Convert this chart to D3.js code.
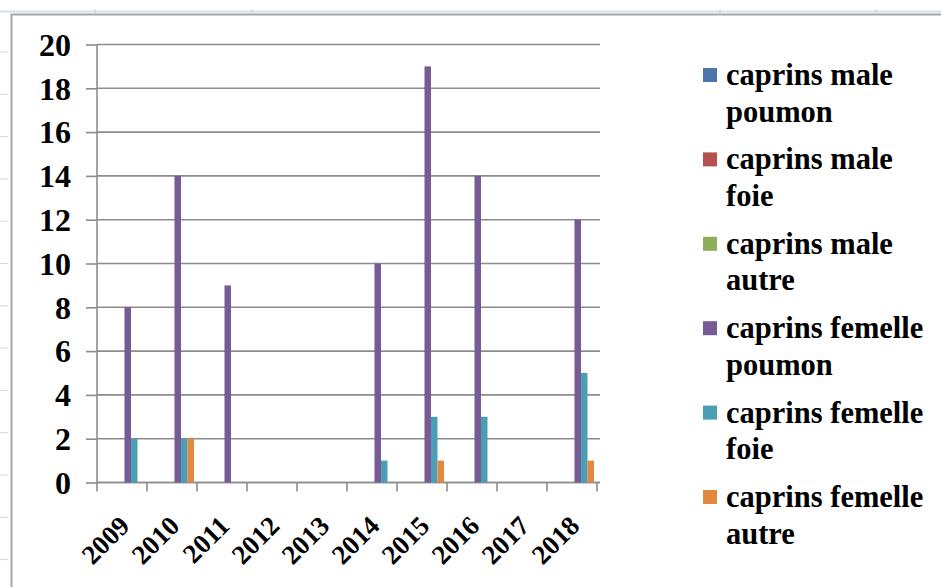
<!DOCTYPE html>
<html>
<head>
<meta charset="utf-8">
<script src="https://cdn.jsdelivr.net/npm/d3@7"></script>
<style>
  html, body { margin: 0; padding: 0; background: #fff; }
  svg { display: block; }
  text { font-family: "Liberation Serif", "Times New Roman", serif; font-weight: bold; fill: #000; }
</style>
</head>
<body>
<svg id="chart" width="941" height="587"></svg>
<script>
// Yearly counts of lesions in goats, by sex and organ
const years = ["2009", "2010", "2011", "2012", "2013", "2014", "2015", "2016", "2017", "2018"];
const seriesNames = [
  "caprins male poumon",
  "caprins male foie",
  "caprins male autre",
  "caprins femelle poumon",
  "caprins femelle foie",
  "caprins femelle autre"
];
const legendLines = [
  ["caprins male", "poumon"],
  ["caprins male", "foie"],
  ["caprins male", "autre"],
  ["caprins femelle", "poumon"],
  ["caprins femelle", "foie"],
  ["caprins femelle", "autre"]
];
const maleLung      = [0, 0, 0, 0, 0, 0, 0, 0, 0, 0];
const maleLiver     = [0, 0, 0, 0, 0, 0, 0, 0, 0, 0];
const maleOther     = [0, 0, 0, 0, 0, 0, 0, 0, 0, 0];
const femaleLung    = [8, 14, 9, 0, 0, 10, 19, 14, 0, 12];
const femaleLiver   = [2, 2, 0, 0, 0, 1, 3, 3, 0, 5];
const femaleOther   = [0, 2, 0, 0, 0, 0, 1, 0, 0, 1];
const yTicks = [0, 2, 4, 6, 8, 10, 12, 14, 16, 18, 20];
const colors = ["#4a76ab", "#b4504d", "#8fae59", "#765b94", "#4a9fb7", "#e3883f"];

const seriesValues = [maleLung, maleLiver, maleOther, femaleLung, femaleLiver, femaleOther];
const rows = years.map((yr, i) => ({ year: yr, values: seriesValues.map(s => s[i]) }));

const svg = d3.select("#chart");

// Spreadsheet frame around the chart object
const frame = svg.append("g");
frame.append("line").attr("x1", 0).attr("x2", 941).attr("y1", 11.5).attr("y2", 11.5)
  .attr("stroke", "#d5deeb").attr("stroke-width", 2);
[95, 252, 720, 876].forEach(x => {
  frame.append("line").attr("x1", x).attr("x2", x).attr("y1", 9).attr("y2", 13)
    .attr("stroke", "#c3cfe0").attr("stroke-width", 1);
});
d3.range(52, 587, 42.3).forEach(y => {
  frame.append("line").attr("x1", 0).attr("x2", 8).attr("y1", y).attr("y2", y)
    .attr("stroke", "#cfd8e6").attr("stroke-width", 1);
});
frame.append("path").attr("d", "M11.5,587V14.5H941")
  .attr("fill", "none").attr("stroke", "#a6a6a6").attr("stroke-width", 2);

// Plot area
const x0 = d3.scaleBand().domain(years).range([97, 597]).padding(0);
const x1 = d3.scaleBand().domain(d3.range(seriesNames.length)).range([8, 47]).padding(0);
const y = d3.scaleLinear().domain([0, 20]).range([482.5, 44.5]);

// Horizontal gridlines + y axis
const yAxis = d3.axisLeft(y).tickValues(yTicks).tickSize(11).tickPadding(15);
const gy = svg.append("g").attr("transform", "translate(97,0)").call(yAxis);
gy.select(".domain").remove();
gy.selectAll(".tick line").attr("stroke", "#8c8c8c").attr("stroke-width", 1.6);
gy.selectAll(".tick text").style("font-size", "32px").attr("dy", "0.34em");

svg.append("g").selectAll("line").data(yTicks).join("line")
  .attr("x1", 97).attr("x2", 600)
  .attr("y1", d => y(d)).attr("y2", d => y(d))
  .attr("stroke", "#8c8c8c").attr("stroke-width", 1.6);

svg.append("line").attr("x1", 97).attr("x2", 97).attr("y1", 44.5).attr("y2", 482.5)
  .attr("stroke", "#8c8c8c").attr("stroke-width", 1.6);

// X axis with ticks at category boundaries
const gx = svg.append("g").attr("transform", "translate(0,482.5)");
gx.append("line").attr("x1", 97).attr("x2", 600).attr("y1", 0).attr("y2", 0)
  .attr("stroke", "#8c8c8c").attr("stroke-width", 1.6);
gx.selectAll("line.tk").data(years.concat(["end"])).join("line").attr("class", "tk")
  .attr("x1", (d, i) => 97 + i * x0.bandwidth()).attr("x2", (d, i) => 97 + i * x0.bandwidth())
  .attr("y1", 0).attr("y2", 9)
  .attr("stroke", "#8c8c8c").attr("stroke-width", 1.6);
gx.selectAll("text").data(years).join("text")
  .attr("text-anchor", "end")
  .style("font-size", "27px")
  .attr("transform", d => `translate(${x0(d) + x0.bandwidth() / 2 + 9},45) rotate(-45)`)
  .text(d => d);

// Bars
const groups = svg.append("g").selectAll("g").data(rows).join("g")
  .attr("transform", d => `translate(${x0(d.year)},0)`);
groups.selectAll("rect").data(d => d.values.map((v, i) => ({ v, i }))).join("rect")
  .attr("x", d => x1(d.i))
  .attr("width", x1.bandwidth())
  .attr("y", d => y(d.v))
  .attr("height", d => y(0) - y(d.v))
  .attr("fill", d => colors[d.i]);

// Legend
const legend = svg.append("g").selectAll("g").data(seriesNames).join("g")
  .attr("transform", (d, i) => `translate(703,${68 + i * 84.4})`);
legend.append("rect").attr("width", 14).attr("height", 14).attr("fill", (d, i) => colors[i]);
legend.append("text").attr("x", 23).attr("y", 17).style("font-size", "30.5px")
  .selectAll("tspan").data((d, i) => legendLines[i]).join("tspan")
  .attr("x", 23).attr("dy", (d, j) => j === 0 ? 0 : 36.5)
  .text(d => d);
</script>
</body>
</html>
